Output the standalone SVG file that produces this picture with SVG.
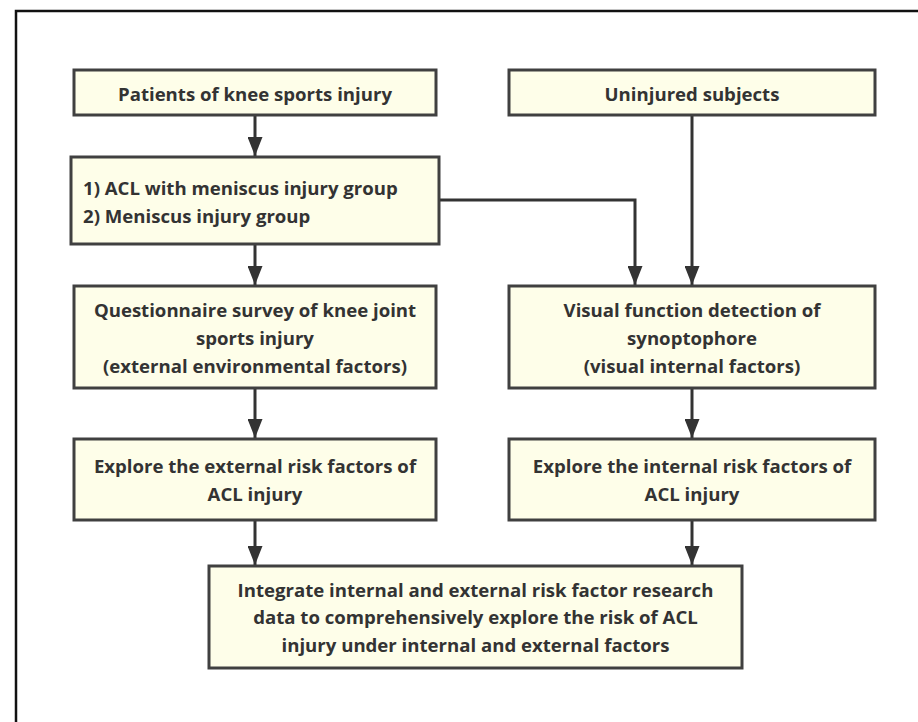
<svg xmlns="http://www.w3.org/2000/svg" width="918" height="722" viewBox="0 0 918 722">
<style>
.box{fill:#fefee9;stroke:#404040;stroke-width:3}
.t{font-family:"Open Sans","DejaVu Sans",sans-serif;font-weight:bold;font-size:18.6px;fill:#333;text-anchor:middle}
.tl{text-anchor:start}
.c{fill:none;stroke:#333;stroke-width:3}
</style>
<defs>
<marker id="arr" markerWidth="19" markerHeight="15" refX="19" refY="7.5" orient="auto" markerUnits="userSpaceOnUse" viewBox="0 0 19 15">
<path d="M0,0 L19,7.5 L0,15 Z" fill="#333"/>
</marker>
</defs>
<rect width="918" height="722" fill="#fff"/>
<path d="M16,722 V11 H918" fill="none" stroke="#111" stroke-width="2.5"/>
<g id="connectors">
<path class="c" d="M255,115 V156" marker-end="url(#arr)"/>
<path class="c" d="M255,244 V285" marker-end="url(#arr)"/>
<path class="c" d="M255,388 V438" marker-end="url(#arr)"/>
<path class="c" d="M692,115 V285" marker-end="url(#arr)"/>
<path class="c" d="M439,200 H635 V285" marker-end="url(#arr)"/>
<path class="c" d="M692,388 V438" marker-end="url(#arr)"/>
<path class="c" d="M255,520 V565" marker-end="url(#arr)"/>
<path class="c" d="M692,520 V565" marker-end="url(#arr)"/>
</g>
<g id="n1"><rect class="box" x="74" y="70" width="362" height="45"/><text class="t" x="255" y="101">Patients of knee sports injury</text></g>
<g id="n2"><rect class="box" x="509" y="70" width="366" height="45"/><text class="t" x="692" y="101">Uninjured subjects</text></g>
<g id="n3"><rect class="box" x="71" y="157" width="368" height="87"/><text class="t tl" x="83" y="195">1) ACL with meniscus injury group</text><text class="t tl" x="83" y="223">2) Meniscus injury group</text></g>
<g id="n4"><rect class="box" x="74" y="286" width="362" height="102"/><text class="t" x="255" y="317">Questionnaire survey of knee joint</text><text class="t" x="255" y="345">sports injury</text><text class="t" x="255" y="373"> (external environmental factors)</text></g>
<g id="n5"><rect class="box" x="509" y="286" width="366" height="102"/><text class="t" x="692" y="317">Visual function detection of</text><text class="t" x="692" y="345">synoptophore</text><text class="t" x="692" y="373">(visual internal factors)</text></g>
<g id="n6"><rect class="box" x="74" y="439" width="362" height="81"/><text class="t" x="255" y="473">Explore the external risk factors of</text><text class="t" x="255" y="501">ACL injury</text></g>
<g id="n7"><rect class="box" x="509" y="439" width="366" height="81"/><text class="t" x="692" y="473">Explore the internal risk factors of</text><text class="t" x="692" y="501">ACL injury</text></g>
<g id="n8"><rect class="box" x="209" y="566" width="533" height="102"/><text class="t" x="475.5" y="597">Integrate internal and external risk factor research</text><text class="t" x="475.5" y="624">data to comprehensively explore the risk of ACL</text><text class="t" x="475.5" y="652">injury under internal and external factors</text></g>
</svg>
